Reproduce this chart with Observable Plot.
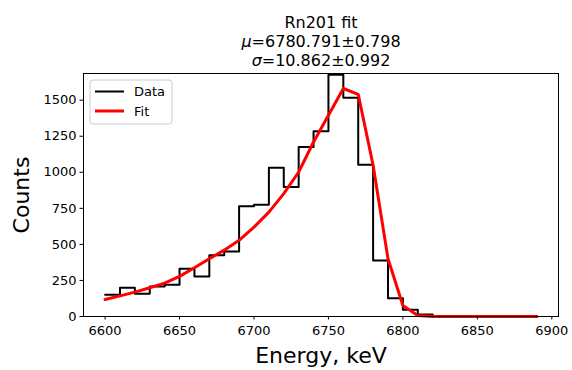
<!DOCTYPE html>
<html>
<head>
<meta charset="utf-8">
<script src="https://cdn.jsdelivr.net/npm/d3@7"></script>
<script src="https://cdn.jsdelivr.net/npm/@observablehq/plot@0.6"></script>
<style>
  html, body { margin: 0; padding: 0; background: #fff; }
  #chart { width: 572px; height: 370px; }
  svg { font-family: "DejaVu Sans", sans-serif; }
</style>
</head>
<body>
<div id="chart"></div>
<script>
// Histogram bin left edges (keV) and counts
const binEdges = [6600,6610,6620,6630,6640,6650,6660,6670,6680,6690,6700,6710,6720,6730,6740,6750,6760,6770,6780,6790,6800,6810,6820,6830,6840,6850,6860,6870,6880,6890];
const counts = [150,199,157,208,220,331,278,424,451,764,775,1032,898,1176,1285,1676,1516,1053,389,127,46,14,4,0,0,0,0,0,0];
// Fit curve evaluated at energies
const fitEnergy = [6600,6610,6620,6630,6640,6650,6660,6670,6680,6690,6700,6710,6720,6730,6740,6750,6760,6770,6780,6790,6800,6810,6820,6830,6840,6850,6860,6870,6880,6890];
const fitValues = [118,143,169,199,231,278,338,400,460,528,620,724,852,1002,1210,1396,1581,1540,1049,400,76,7,0,0,0,0,0,0,0,0];
const xTicks = [6600,6650,6700,6750,6800,6850,6900];
const yTicks = [0,250,500,750,1000,1250,1500];
const titleLines = ["Rn201 fit", "6780.791±0.798", "10.862±0.992"];
const legendLabels = ["Data", "Fit"];

// step outline points (no drop to zero at the left edge)
const stepData = counts.map((c, i) => ({x: binEdges[i], y: c}));
stepData.push({x: binEdges[binEdges.length - 1], y: counts[counts.length - 1]});
const fitData = fitEnergy.map((e, i) => ({x: e, y: fitValues[i]}));

const plot = Plot.plot({
  width: 572,
  height: 370,
  marginLeft: 83,
  marginRight: 14,
  marginTop: 73,
  marginBottom: 54,
  style: {fontFamily: "DejaVu Sans, sans-serif", fontSize: "13px", color: "#000", background: "#fff"},
  x: {domain: [6585.5, 6904.5], label: null},
  y: {domain: [0, 1685], label: null},
  marks: [
    Plot.lineY(stepData, {x: "x", y: "y", curve: "step-after", stroke: "black", strokeWidth: 2}),
    Plot.lineY(fitData, {x: "x", y: "y", stroke: "red", strokeWidth: 3}),
    Plot.frame({stroke: "black", strokeWidth: 1}),
    Plot.axisX({ticks: xTicks, tickSize: 3.5, tickPadding: 6, tickFormat: d => String(d), fontSize: 13, label: null}),
    Plot.axisY({ticks: yTicks, tickSize: 3.5, tickPadding: 3.5, tickFormat: d => String(d), fontSize: 13, label: null})
  ]
});
document.getElementById("chart").appendChild(plot);

const svg = d3.select(plot);
// axis labels
svg.append("text").attr("x", 321).attr("y", 363).attr("text-anchor", "middle")
  .attr("font-size", 22).attr("fill", "black").text("Energy, keV");
svg.append("text").attr("transform", "translate(29,195) rotate(-90)").attr("text-anchor", "middle")
  .attr("font-size", 22).attr("fill", "black").text("Counts");

// title
const tg = svg.append("g").attr("text-anchor", "middle").attr("font-size", 16).attr("fill", "black");
tg.append("text").attr("x", 321).attr("y", 28).text(titleLines[0]);
const t2 = tg.append("text").attr("x", 321).attr("y", 47);
t2.append("tspan").attr("font-style", "italic").text("μ");
t2.append("tspan").text("=" + titleLines[1]);
const t3 = tg.append("text").attr("x", 321).attr("y", 66);
t3.append("tspan").attr("font-style", "italic").text("σ");
t3.append("tspan").text("=" + titleLines[2]);

// legend
const lg = svg.append("g").attr("text-anchor", "start");
lg.append("rect").attr("x", 90).attr("y", 80).attr("width", 82).attr("height", 44).attr("rx", 3)
  .attr("fill", "white").attr("fill-opacity", 0.8).attr("stroke", "#cccccc").attr("stroke-width", 1);
const legendColors = ["black", "red"];
const legendWidths = [2, 3];
legendLabels.forEach((lab, i) => {
  const y = 91.5 + i * 19.5;
  lg.append("line").attr("x1", 95).attr("x2", 124).attr("y1", y).attr("y2", y)
    .attr("stroke", legendColors[i]).attr("stroke-width", legendWidths[i]);
  lg.append("text").attr("x", 134).attr("y", y + 4.5).attr("font-size", 13).attr("fill", "black")
    .attr("text-anchor", "start").text(lab);
});
</script>
</body>
</html>
